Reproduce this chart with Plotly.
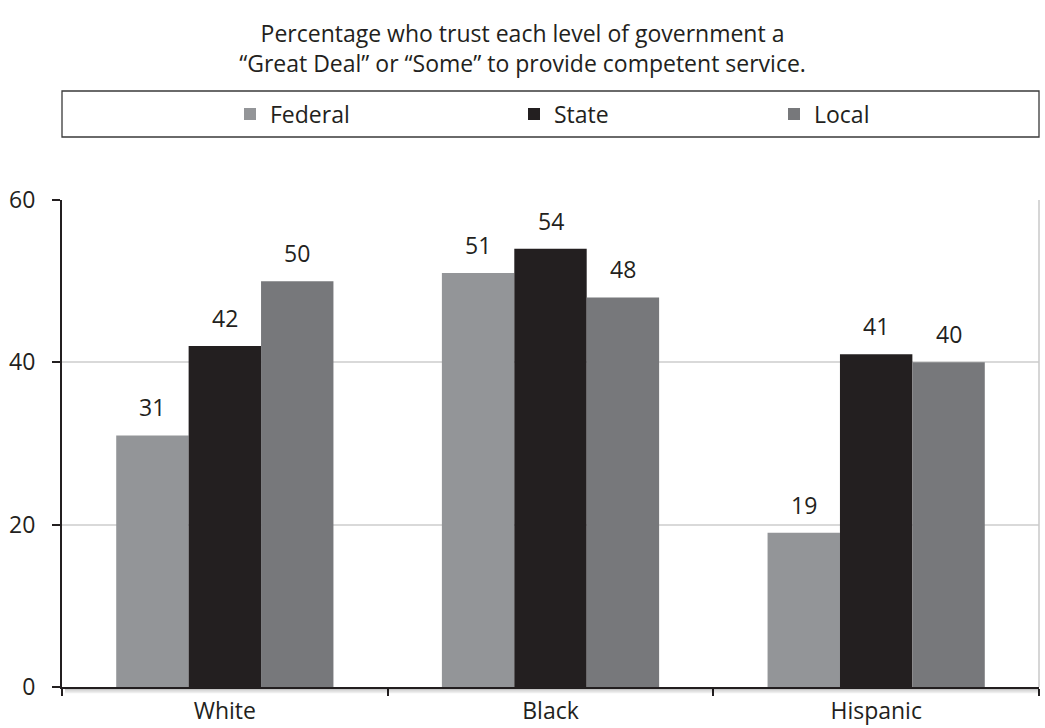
import plotly.graph_objects as go

categories = ["White", "Black", "Hispanic"]
federal = [31, 51, 19]
state = [42, 54, 41]
local = [50, 48, 40]
series_names = ["Federal", "State", "Local"]
colors = ["#939598", "#231f20", "#77787b"]
title_lines = ["Percentage who trust each level of government a",
               "\u201cGreat Deal\u201d or \u201cSome\u201d to provide competent service."]

FONT = "Open Sans"
FS = 23
TXT = "#231f20"

W, H = 1045, 728
ML, MR, MT, MB = 62, 6, 200, 41
PW = W - ML - MR
PH = H - MT - MB
BARGAP = 0.333
bar_px = PW / len(categories) * (1 - BARGAP) / len(series_names)

fig = go.Figure()
legend_ids = ["legend", "legend2", "legend3"]
all_vals = [federal, state, local]
for name, vals, col, lg in zip(series_names, all_vals, colors, legend_ids):
    fig.add_trace(go.Bar(
        x=categories, y=vals, name=name, marker=dict(color=col, line=dict(width=0)),
        legend=lg, hovertemplate="%{x}: %{y}<extra>" + name + "</extra>",
    ))

# value labels above the bars
for si, vals in enumerate(all_vals):
    for cat, v in zip(categories, vals):
        fig.add_annotation(x=cat, y=v, xref="x", yref="y", text=str(v), showarrow=False,
                           xshift=(si - 1) * bar_px, yshift=28, yanchor="middle",
                           font=dict(family=FONT, size=FS, color=TXT))

def py(pix):
    return (H - MB - pix) / PH

leg_common = dict(orientation="h", yanchor="middle", y=py(114), xanchor="left",
                  bgcolor="rgba(0,0,0,0)", borderwidth=0, itemwidth=30,
                  font=dict(family=FONT, size=FS, color=TXT))
fig.update_layout(
    width=W, height=H,
    margin=dict(l=ML, r=MR, t=MT, b=MB, autoexpand=False),
    paper_bgcolor="white", plot_bgcolor="white",
    barmode="group", bargap=BARGAP, bargroupgap=0,
    font=dict(family=FONT, color=TXT),
    title=dict(text="<br>".join(title_lines), x=0.5, xref="container", xanchor="center",
               y=1 - 42 / H, yref="container", yanchor="middle",
               font=dict(family=FONT, size=FS, color=TXT)),
    legend=dict(x=(230 - ML) / PW, **leg_common),
    legend2=dict(x=(514 - ML) / PW, **leg_common),
    legend3=dict(x=(774 - ML) / PW, **leg_common),
    showlegend=True,
)
fig.update_yaxes(range=[0, 60], tickvals=[0, 20, 40, 60], showgrid=True, gridcolor="#d9d9d9",
                 gridwidth=1.5, zeroline=False, showline=True, linecolor="#231f20", linewidth=2,
                 ticks="outside", ticklen=8, tickcolor="#231f20", tickwidth=1.5,
                 ticklabelstandoff=12, automargin=False,
                 tickfont=dict(family=FONT, size=FS, color=TXT))
fig.update_xaxes(showline=True, linecolor="#231f20", linewidth=2, ticks="outside",
                 tickson="boundaries", ticklen=7, tickcolor="#231f20", tickwidth=1.5,
                 ticklabelstandoff=2, automargin=False,
                 tickfont=dict(family=FONT, size=FS, color=TXT), showgrid=False)

# legend box
fig.add_shape(type="rect", xref="paper", yref="paper", x0=0, x1=1,
              y0=py(137), y1=py(91),
              line=dict(color="#3a3a3a", width=1.3), fillcolor="rgba(0,0,0,0)", layer="below")
# right border of plot area
fig.add_shape(type="line", xref="paper", yref="paper", x0=1, x1=1, y0=0, y1=1,
              line=dict(color="#c8c8c8", width=1.5))
# subtle shadow under the x axis
for i, a in enumerate([0.22, 0.13, 0.07]):
    yy = py(H - MB + 2.5 + 1.5 * i)
    fig.add_shape(type="line", xref="paper", yref="paper", x0=0.003, x1=1, y0=yy, y1=yy,
                  line=dict(color=f"rgba(0,0,0,{a})", width=1.5))

fig.write_html("out.html", config={"displayModeBar": False},
               post_script="document.body.style.margin='0';")
